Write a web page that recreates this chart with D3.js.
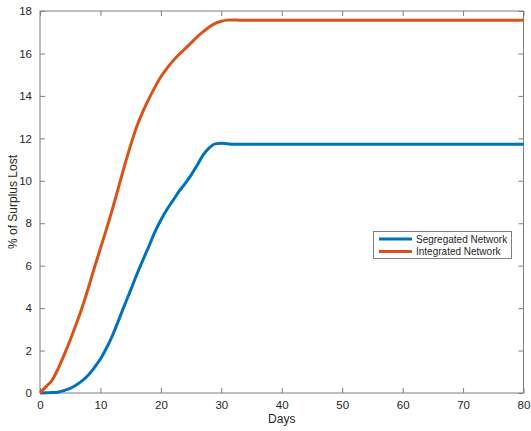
<!DOCTYPE html>
<html><head><meta charset="utf-8">
<script src="https://cdn.jsdelivr.net/npm/d3@7"></script>
<style>body{margin:0;background:#fff;} svg{display:block;font-family:"Liberation Sans",Arial,sans-serif;}</style>
</head><body>
<svg id="c" width="531" height="431"></svg>
<script>
const days = d3.range(0, 81);
const segregated = [0,0.01,0.02,0.04,0.12,0.22,0.38,0.58,0.85,1.2,1.6,2.12,2.72,3.42,4.15,4.85,5.57,6.25,6.9,7.58,8.15,8.65,9.07,9.5,9.87,10.27,10.73,11.22,11.55,11.74,11.77,11.74].concat(d3.range(32,81).map(()=>11.72));
const integrated = [0,0.3,0.6,1.15,1.8,2.5,3.25,4.05,4.95,5.9,6.82,7.72,8.68,9.7,10.72,11.68,12.55,13.25,13.85,14.4,14.9,15.3,15.65,15.95,16.22,16.5,16.78,17.03,17.25,17.42,17.52,17.57,17.58].concat(d3.range(33,81).map(()=>17.57));
const xTicks = [0,10,20,30,40,50,60,70,80];
const yTicks = [0,2,4,6,8,10,12,14,16,18];
const seriesNames = ["Segregated Network","Integrated Network"];
const colors = ["#0072BD","#D95319"];

const svg = d3.select("#c");
const L=40, R=523.5, T=11, B=393;
const x = d3.scaleLinear().domain([0,80]).range([L,R]);
const y = d3.scaleLinear().domain([0,18]).range([B,T]);
const axisCol="#7f7f7f", textCol="#262626";

svg.append("rect").attr("x",L).attr("y",T).attr("width",R-L).attr("height",B-T)
  .attr("fill","none").attr("stroke",axisCol).attr("stroke-width",1);

const gx = svg.append("g").attr("transform",`translate(0,${B})`)
  .call(d3.axisBottom(x).tickValues(xTicks).tickSize(-5).tickPadding(8));
const gxt = svg.append("g").attr("transform",`translate(0,${T})`)
  .call(d3.axisTop(x).tickValues(xTicks).tickSize(-5).tickFormat(""));
const gy = svg.append("g").attr("transform",`translate(${L},0)`)
  .call(d3.axisLeft(y).tickValues(yTicks).tickSize(-5).tickPadding(8));
const gyr = svg.append("g").attr("transform",`translate(${R},0)`)
  .call(d3.axisRight(y).tickValues(yTicks).tickSize(-5).tickFormat(""));
[gx,gxt,gy,gyr].forEach(g=>{
  g.select(".domain").remove();
  g.selectAll(".tick line").attr("stroke",axisCol);
  g.selectAll("text").attr("fill",textCol).style("font-size","11.5px");
});

const line = d3.line().x((d,i)=>x(days[i])).y(d=>y(d)).curve(d3.curveMonotoneX);
[segregated, integrated].forEach((s,k)=>{
  svg.append("path").datum(s).attr("d",line).attr("fill","none")
    .attr("stroke",colors[k]).attr("stroke-width",3).attr("stroke-linejoin","round");
});

svg.append("text").attr("x",(L+R)/2).attr("y",423).attr("text-anchor","middle")
  .attr("fill",textCol).style("font-size","12px").text("Days");
svg.append("text").attr("transform",`translate(17,${(T+B)/2}) rotate(-90)`).attr("text-anchor","middle")
  .attr("fill",textCol).style("font-size","12px").text("% of Surplus Lost");

const lg = svg.append("g");
lg.append("rect").attr("x",373.5).attr("y",231.5).attr("width",138).attr("height",27)
  .attr("fill","#fff").attr("stroke",axisCol).attr("stroke-width",1);
seriesNames.forEach((n,k)=>{
  const yy = 239 + k*12.5;
  lg.append("line").attr("x1",379).attr("x2",412).attr("y1",yy).attr("y2",yy)
    .attr("stroke",colors[k]).attr("stroke-width",3);
  lg.append("text").attr("x",416).attr("y",yy).attr("dy","0.35em")
    .attr("fill",textCol).style("font-size","10px").text(n);
});
</script>
</body></html>
